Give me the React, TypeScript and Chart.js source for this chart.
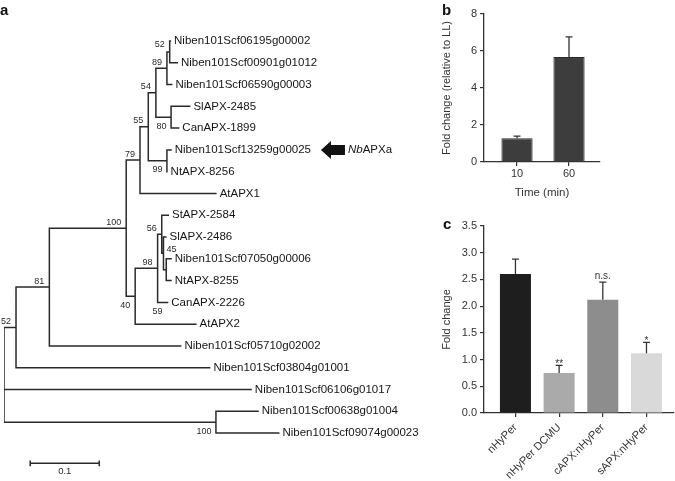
import React, { useEffect, useRef } from 'react';
import { Chart, registerables } from 'chart.js';

Chart.register(...registerables);

const FONT = '"Liberation Sans", Arial, Helvetica, sans-serif';
Chart.defaults.font.family = FONT;
Chart.defaults.color = '#333';

// ---------------- Panel a : phylogenetic tree ----------------
const leafNames = [
  'Niben101Scf06195g00002',
  'Niben101Scf00901g01012',
  'Niben101Scf06590g00003',
  'SlAPX-2485',
  'CanAPX-1899',
  'Niben101Scf13259g00025',
  'NtAPX-8256',
  'AtAPX1',
  'StAPX-2584',
  'SlAPX-2486',
  'Niben101Scf07050g00006',
  'NtAPX-8255',
  'CanAPX-2226',
  'AtAPX2',
  'Niben101Scf05710g02002',
  'Niben101Scf03804g01001',
  'Niben101Scf06106g01017',
  'Niben101Scf00638g01004',
  'Niben101Scf09074g00023',
];
// distance from root (substitutions/site) of each leaf tip
const leafDist = [
  0.242, 0.252, 0.244, 0.270, 0.254, 0.243, 0.237, 0.308, 0.239, 0.2355,
  0.243, 0.243, 0.238, 0.279, 0.257, 0.299, 0.359, 0.369, 0.399,
];
const nodeIds = ['A', 'B', 'C', 'N54', 'D', 'N55', 'N79', 'X', 'N45', 'N56', 'N98', 'N40', 'N100', 'N81', 'N52', 'E', 'root'];
const nodeDist = [0.240, 0.236, 0.242, 0.220, 0.236, 0.209, 0.197, 0.235, 0.231, 0.2285, 0.2225, 0.190, 0.177, 0.0657, 0.0174, 0.307, 0];
const nodeChildren = [
  ['L0', 'L1'],
  ['A', 'L2'],
  ['L3', 'L4'],
  ['B', 'C'],
  ['L5', 'L6'],
  ['N54', 'D'],
  ['N55', 'L7'],
  ['L10', 'L11'],
  ['L9', 'X'],
  ['L8', 'N45'],
  ['N56', 'L12'],
  ['N98', 'L13'],
  ['N79', 'N40'],
  ['N100', 'L14'],
  ['N81', 'L15'],
  ['L17', 'L18'],
  ['N52', 'L16', 'E'],
];
const bootNodes = ['A', 'B', 'C', 'N54', 'D', 'N55', 'N79', 'N100', 'N45', 'N56', 'N98', 'N98', 'N40', 'N81', 'N52', 'E'];
const bootValues = ['52', '89', '80', '54', '99', '55', '79', '100', '45', '56', '98', '59', '40', '81', '52', '100'];
const highlightLeaf = 'Niben101Scf13259g00025';
const scaleBarLength = 0.1;

// label placement (style, not data)
const bootPlacement = ['topLeft', 'above', 'bottomLeft', 'above', 'bottomLeft', 'above', 'above', 'above', 'aboveRight', 'above', 'above', 'bottomCenter', 'below', 'above', 'above', 'bottomLeft'];
const SCALEBAR_X = 0.038;
const SCALEBAR_Y = 19.39;

function nodeX(id: string): number {
  if (id[0] === 'L') return leafDist[+id.slice(1)];
  return nodeDist[nodeIds.indexOf(id)];
}
function nodeY(id: string): number {
  if (id[0] === 'L') return +id.slice(1);
  const ch = nodeChildren[nodeIds.indexOf(id)];
  return (nodeY(ch[0]) + nodeY(ch[ch.length - 1])) / 2;
}

function treePoints() {
  const pts: any[] = [];
  nodeIds.forEach((id, i) => {
    const ch = nodeChildren[i];
    const nx = nodeDist[i];
    const f = ch[0];
    const l = ch[ch.length - 1];
    pts.push({ x: nodeX(f), y: nodeY(f) }, { x: nx, y: nodeY(f) }, { x: nx, y: nodeY(l) }, { x: nodeX(l), y: nodeY(l) });
    pts.push({ x: 0, y: null });
    for (let k = 1; k < ch.length - 1; k++) {
      pts.push({ x: nx, y: nodeY(ch[k]) }, { x: nodeX(ch[k]), y: nodeY(ch[k]) });
      pts.push({ x: 0, y: null });
    }
  });
  return pts;
}
function scaleBarPoints() {
  const a = SCALEBAR_X;
  const b = SCALEBAR_X + scaleBarLength;
  const y = SCALEBAR_Y;
  return [
    { x: a, y }, { x: b, y }, { x: 0, y: null },
    { x: a, y: y - 0.13 }, { x: a, y: y + 0.13 }, { x: 0, y: null },
    { x: b, y: y - 0.13 }, { x: b, y: y + 0.13 },
  ];
}

const treePlugin = {
  id: 'treeText',
  afterDatasetsDraw(chart: any) {
    const { ctx } = chart;
    const xs = chart.scales.x;
    const ys = chart.scales.y;
    ctx.save();
    ctx.fillStyle = '#151515';
    ctx.font = `11.5px ${FONT}`;
    ctx.textBaseline = 'middle';
    ctx.textAlign = 'left';
    leafNames.forEach((n, i) => {
      ctx.fillText(n, xs.getPixelForValue(leafDist[i]) + 3, ys.getPixelForValue(i));
    });
    // arrow + NbAPXa
    const ai = leafNames.indexOf(highlightLeaf);
    const endX = xs.getPixelForValue(leafDist[ai]) + 3 + ctx.measureText(leafNames[ai]).width;
    const ay = ys.getPixelForValue(ai);
    const tip = endX + 10;
    ctx.beginPath();
    ctx.moveTo(tip, ay);
    ctx.lineTo(tip + 10, ay - 9);
    ctx.lineTo(tip + 10, ay - 5);
    ctx.lineTo(tip + 24, ay - 5);
    ctx.lineTo(tip + 24, ay + 5);
    ctx.lineTo(tip + 10, ay + 5);
    ctx.lineTo(tip + 10, ay + 9);
    ctx.closePath();
    ctx.fillStyle = '#111';
    ctx.fill();
    ctx.fillStyle = '#151515';
    let tx = tip + 27;
    ctx.font = `italic 11.5px ${FONT}`;
    ctx.fillText('Nb', tx, ay);
    tx += ctx.measureText('Nb').width;
    ctx.font = `11.5px ${FONT}`;
    ctx.fillText('APXa', tx, ay);

    // bootstrap values
    ctx.font = `9px ${FONT}`;
    ctx.fillStyle = '#2a2a2a';
    bootNodes.forEach((id, i) => {
      const ch = nodeChildren[nodeIds.indexOf(id)];
      const gx = xs.getPixelForValue(nodeX(id));
      const gy = ys.getPixelForValue(nodeY(id));
      const top = ys.getPixelForValue(nodeY(ch[0]));
      const bottom = ys.getPixelForValue(nodeY(ch[ch.length - 1]));
      const p = bootPlacement[i];
      let x = gx - 5;
      let y = gy - 6;
      ctx.textAlign = 'right';
      if (p === 'below') { y = gy + 9; }
      else if (p === 'topLeft') { y = top + 4; }
      else if (p === 'bottomLeft') { x = gx - 4.5; y = bottom - 2; }
      else if (p === 'aboveRight') { ctx.textAlign = 'left'; x = gx + 3; y = gy - 4; }
      else if (p === 'bottomCenter') { ctx.textAlign = 'center'; x = gx; y = bottom + 9; }
      ctx.fillText(bootValues[i], x, y);
    });

    // scale bar label
    ctx.textAlign = 'center';
    ctx.font = `9.5px ${FONT}`;
    ctx.fillText(String(scaleBarLength), xs.getPixelForValue(SCALEBAR_X + scaleBarLength / 2), ys.getPixelForValue(SCALEBAR_Y) + 8);

    // panel letter
    ctx.textAlign = 'left';
    ctx.textBaseline = 'alphabetic';
    ctx.fillStyle = '#111';
    ctx.font = `bold 15px ${FONT}`;
    ctx.fillText('a', 0, 15);
    ctx.restore();
  },
};

// ---------------- Panel b ----------------
const bTimes = ['10', '60'];
const bValues = [1.28, 5.68];
const bErrors = [0.12, 1.08];
const bTicks = [0, 2, 4, 6, 8];

// ---------------- Panel c ----------------
const cLabels = ['nHyPer', 'nHyPer DCMU', 'cAPX:nHyPer', 'sAPX:nHyPer'];
const cValues = [2.60, 0.75, 2.12, 1.12];
const cErrors = [0.28, 0.14, 0.33, 0.20];
const cSignif = ['', '**', 'n.s.', '*'];
const cColors = ['#1e1e1e', '#aaaaaa', '#8d8d8d', '#d9d9d9'];

function errorBarPlugin(values: number[], errors: number[], letter: string, lx: number, ly: number, signif?: string[]) {
  return {
    id: 'errs' + letter,
    afterDatasetsDraw(chart: any) {
      const { ctx } = chart;
      const meta = chart.getDatasetMeta(0);
      const ys = chart.scales.y;
      ctx.save();
      ctx.strokeStyle = '#333';
      ctx.lineWidth = 1.3;
      values.forEach((v, i) => {
        const x = meta.data[i].x;
        const y0 = ys.getPixelForValue(v);
        const y1 = ys.getPixelForValue(v + errors[i]);
        ctx.beginPath();
        ctx.moveTo(x, y0);
        ctx.lineTo(x, y1);
        ctx.moveTo(x - 3.5, y1);
        ctx.lineTo(x + 3.5, y1);
        ctx.stroke();
        if (signif && signif[i]) {
          ctx.fillStyle = '#333';
          ctx.font = `10px ${FONT}`;
          ctx.textAlign = 'center';
          ctx.textBaseline = 'alphabetic';
          const isStar = signif[i][0] === '*';
          ctx.fillText(signif[i], x, y1 - (isStar ? -2 : 3));
        }
      });
      ctx.fillStyle = '#111';
      ctx.font = `bold 15px ${FONT}`;
      ctx.textAlign = 'left';
      ctx.textBaseline = 'alphabetic';
      ctx.fillText(letter, lx, ly);
      ctx.restore();
    },
  };
}

const axisGrid = { display: true, drawOnChartArea: false, drawTicks: true, tickLength: 4, color: '#333', lineWidth: 1.2 };
const axisBorder = { display: true, color: '#333', width: 1.3 };
const tickFont = { size: 11, family: FONT };

export default function App() {
  const aRef = useRef<HTMLCanvasElement>(null);
  const bRef = useRef<HTMLCanvasElement>(null);
  const cRef = useRef<HTMLCanvasElement>(null);

  useEffect(() => {
    const charts: Chart[] = [];
    // Tree
    charts.push(new Chart(aRef.current as HTMLCanvasElement, {
      type: 'scatter',
      data: {
        datasets: [
          { data: treePoints(), showLine: true, borderColor: '#2a2a2a', borderWidth: 1.5, pointRadius: 0, spanGaps: false, borderJoinStyle: 'miter' } as any,
          { data: scaleBarPoints(), showLine: true, borderColor: '#2a2a2a', borderWidth: 1.5, pointRadius: 0, spanGaps: false } as any,
        ],
      },
      options: {
        animation: false,
        responsive: false,
        devicePixelRatio: 1,
        events: [],
        layout: { padding: { left: 4, right: 0, top: 0, bottom: 0 } },
        plugins: { legend: { display: false }, tooltip: { enabled: false } },
        scales: {
          x: { type: 'linear', display: false, min: 0, max: 0.675 },
          y: { type: 'linear', display: false, min: -1.882, max: 20.2, reverse: true },
        },
      } as any,
      plugins: [treePlugin],
    }));

    // Panel b
    charts.push(new Chart(bRef.current as HTMLCanvasElement, {
      type: 'bar',
      data: {
        datasets: [{
          data: bValues.map((v, i) => ({ x: i, y: v })),
          backgroundColor: '#3d3d3d',
          borderColor: '#2b2b2b',
          borderWidth: 1,
          barPercentage: 1,
          categoryPercentage: 0.6,
        }],
      },
      options: {
        animation: false,
        responsive: false,
        devicePixelRatio: 1,
        events: [],
        layout: { padding: { left: 0, right: 6, top: 14, bottom: 0 } },
        plugins: { legend: { display: false }, tooltip: { enabled: false } },
        scales: {
          x: {
            type: 'linear', min: -0.635, max: 1.596, offset: false,
            grid: { ...axisGrid, offset: false }, border: axisBorder,
            ticks: {
              stepSize: 1, includeBounds: false, autoSkip: false, maxRotation: 0, padding: 1, font: tickFont, color: '#333',
              callback: (v: number) => (Number.isInteger(v) && v >= 0 && v < bTimes.length ? bTimes[v] : ''),
            },
            title: { display: true, text: 'Time (min)', font: { size: 11.5, family: FONT }, color: '#333' },
            afterFit: (s: any) => { s.height = 42; },
          },
          y: {
            min: bTicks[0], max: bTicks[bTicks.length - 1],
            grid: axisGrid, border: axisBorder,
            ticks: { stepSize: 2, font: tickFont, color: '#333', padding: 3 },
            title: { display: true, text: 'Fold change (relative to LL)', font: { size: 11, family: FONT }, color: '#333' },
            afterFit: (s: any) => { s.width = 48; },
          },
        },
      } as any,
      plugins: [errorBarPlugin(bValues, bErrors, 'b', 6, 15)],
    }));

    // Panel c
    charts.push(new Chart(cRef.current as HTMLCanvasElement, {
      type: 'bar',
      data: {
        datasets: [{
          data: cValues.map((v, i) => ({ x: i, y: v })),
          backgroundColor: cColors,
          borderWidth: 0,
          barPercentage: 1,
          categoryPercentage: 0.71,
        }],
      },
      options: {
        animation: false,
        responsive: false,
        devicePixelRatio: 1,
        events: [],
        layout: { padding: { left: 0, right: 1, top: 11, bottom: 0 } },
        plugins: { legend: { display: false }, tooltip: { enabled: false } },
        scales: {
          x: {
            type: 'linear', min: -0.72, max: 3.63, offset: false,
            grid: { ...axisGrid, offset: false }, border: axisBorder,
            ticks: {
              stepSize: 1, includeBounds: false, autoSkip: false, minRotation: 45, maxRotation: 45, padding: 4, font: tickFont, color: '#333',
              callback: (v: number) => (Number.isInteger(v) && v >= 0 && v < cLabels.length ? cLabels[v] : ''),
            },
            afterFit: (s: any) => { s.height = 68; },
          },
          y: {
            min: 0, max: 3.5,
            grid: axisGrid, border: axisBorder,
            ticks: { stepSize: 0.5, font: tickFont, color: '#333', padding: 3, callback: (v: number) => v.toFixed(1) },
            title: { display: true, text: 'Fold change', font: { size: 11, family: FONT }, color: '#333' },
            afterFit: (s: any) => { s.width = 48; },
          },
        },
      } as any,
      plugins: [errorBarPlugin(cValues, cErrors, 'c', 7, 14, cSignif)],
    }));

    return () => charts.forEach((c) => c.destroy());
  }, []);

  return (
    <div style={{ position: 'absolute', left: 0, top: 0, width: 675, height: 481, background: '#fff', overflow: 'hidden' }}>
      <canvas ref={aRef} width={470} height={481} style={{ position: 'absolute', left: 0, top: 0 }} />
      <canvas ref={bRef} width={170} height={204} style={{ position: 'absolute', left: 436, top: 0 }} />
      <canvas ref={cRef} width={239} height={266} style={{ position: 'absolute', left: 436, top: 215 }} />
    </div>
  );
}
